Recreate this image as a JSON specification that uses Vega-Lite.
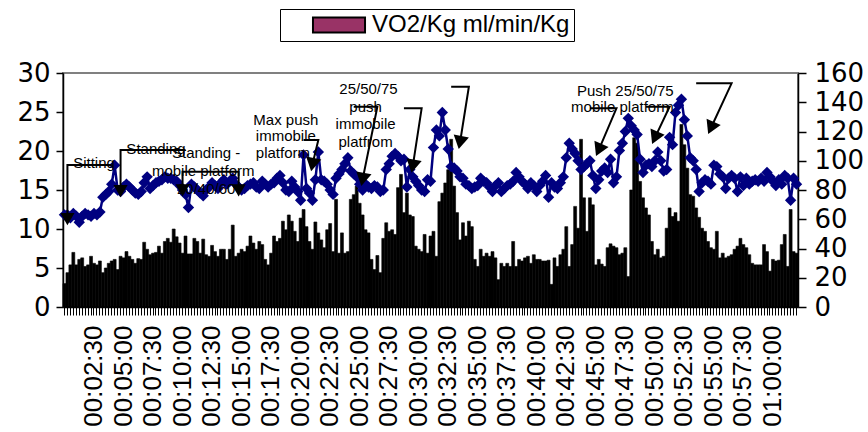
{
  "$schema": "https://vega.github.io/schema/vega-lite/v6.json",
  "width": 735,
  "height": 234,
  "autosize": {"type": "none"},
  "padding": {"left": 63, "top": 73, "right": 70, "bottom": 125},
  "background": "white",
  "config": {
    "view": {"stroke": "#808080", "strokeWidth": 2},
    "font": "Liberation Sans",
    "axis": {"labelFont": "Liberation Sans", "labelColor": "black", "tickColor": "black", "domainColor": "black", "grid": false}
  },
  "datasets": {
    "series": [
      {"t":"00:00:00","vo2":3.0,"hr":63},{"t":"00:00:15","vo2":4.4,"hr":63},{"t":"00:00:30","vo2":5.4,"hr":61},{"t":"00:00:45","vo2":7.0,"hr":64},
      {"t":"00:01:00","vo2":5.4,"hr":62},{"t":"00:01:15","vo2":6.1,"hr":58},{"t":"00:01:30","vo2":6.3,"hr":62},{"t":"00:01:45","vo2":5.2,"hr":64},
      {"t":"00:02:00","vo2":5.4,"hr":63},{"t":"00:02:15","vo2":6.5,"hr":62},{"t":"00:02:30","vo2":5.6,"hr":64},{"t":"00:02:45","vo2":5.4,"hr":63},
      {"t":"00:03:00","vo2":5.9,"hr":65},{"t":"00:03:15","vo2":4.4,"hr":75},{"t":"00:03:30","vo2":5.0,"hr":77},{"t":"00:03:45","vo2":5.6,"hr":79},
      {"t":"00:04:00","vo2":5.9,"hr":84},{"t":"00:04:15","vo2":6.1,"hr":97},{"t":"00:04:30","vo2":4.8,"hr":80},{"t":"00:04:45","vo2":6.5,"hr":79},
      {"t":"00:05:00","vo2":6.3,"hr":82},{"t":"00:05:15","vo2":7.1,"hr":84},{"t":"00:05:30","vo2":6.5,"hr":82},{"t":"00:05:45","vo2":6.1,"hr":80},
      {"t":"00:06:00","vo2":5.6,"hr":78},{"t":"00:06:15","vo2":6.2,"hr":77},{"t":"00:06:30","vo2":6.1,"hr":79},{"t":"00:06:45","vo2":8.3,"hr":85},
      {"t":"00:07:00","vo2":7.4,"hr":89},{"t":"00:07:15","vo2":6.7,"hr":81},{"t":"00:07:30","vo2":6.9,"hr":83},{"t":"00:07:45","vo2":7.0,"hr":85},
      {"t":"00:08:00","vo2":7.8,"hr":86},{"t":"00:08:15","vo2":6.9,"hr":87},{"t":"00:08:30","vo2":8.4,"hr":89},{"t":"00:08:45","vo2":8.8,"hr":88},
      {"t":"00:09:00","vo2":8.3,"hr":88},{"t":"00:09:15","vo2":10.0,"hr":87},{"t":"00:09:30","vo2":9.0,"hr":86},{"t":"00:09:45","vo2":8.2,"hr":83},
      {"t":"00:10:00","vo2":6.9,"hr":80},{"t":"00:10:15","vo2":9.1,"hr":77},{"t":"00:10:30","vo2":6.8,"hr":68},{"t":"00:10:45","vo2":6.8,"hr":84},
      {"t":"00:11:00","vo2":8.8,"hr":82},{"t":"00:11:15","vo2":8.4,"hr":80},{"t":"00:11:30","vo2":6.9,"hr":78},{"t":"00:11:45","vo2":8.7,"hr":76},
      {"t":"00:12:00","vo2":6.7,"hr":80},{"t":"00:12:15","vo2":6.5,"hr":82},{"t":"00:12:30","vo2":7.9,"hr":85},{"t":"00:12:45","vo2":7.1,"hr":83},
      {"t":"00:13:00","vo2":6.5,"hr":81},{"t":"00:13:15","vo2":7.4,"hr":85},{"t":"00:13:30","vo2":7.4,"hr":87},{"t":"00:13:45","vo2":6.1,"hr":84},
      {"t":"00:14:00","vo2":7.4,"hr":86},{"t":"00:14:15","vo2":10.5,"hr":88},{"t":"00:14:30","vo2":6.5,"hr":84},{"t":"00:14:45","vo2":6.9,"hr":82},
      {"t":"00:15:00","vo2":7.4,"hr":80},{"t":"00:15:15","vo2":7.1,"hr":81},{"t":"00:15:30","vo2":7.8,"hr":83},{"t":"00:15:45","vo2":9.1,"hr":84},
      {"t":"00:16:00","vo2":8.2,"hr":85},{"t":"00:16:15","vo2":7.4,"hr":82},{"t":"00:16:30","vo2":8.4,"hr":81},{"t":"00:16:45","vo2":8.0,"hr":86},
      {"t":"00:17:00","vo2":6.1,"hr":84},{"t":"00:17:15","vo2":5.4,"hr":82},{"t":"00:17:30","vo2":6.9,"hr":84},{"t":"00:17:45","vo2":9.1,"hr":85},
      {"t":"00:18:00","vo2":8.4,"hr":88},{"t":"00:18:15","vo2":8.8,"hr":90},{"t":"00:18:30","vo2":11.0,"hr":85},{"t":"00:18:45","vo2":9.9,"hr":80},
      {"t":"00:19:00","vo2":11.8,"hr":79},{"t":"00:19:15","vo2":11.0,"hr":86},{"t":"00:19:30","vo2":9.7,"hr":82},{"t":"00:19:45","vo2":8.4,"hr":79},
      {"t":"00:20:00","vo2":11.4,"hr":73},{"t":"00:20:15","vo2":12.5,"hr":104},{"t":"00:20:30","vo2":10.3,"hr":81},{"t":"00:20:45","vo2":8.4,"hr":78},
      {"t":"00:21:00","vo2":7.4,"hr":73},{"t":"00:21:15","vo2":10.9,"hr":87},{"t":"00:21:30","vo2":9.5,"hr":106},{"t":"00:21:45","vo2":8.6,"hr":87},
      {"t":"00:22:00","vo2":7.6,"hr":86},{"t":"00:22:15","vo2":9.9,"hr":84},{"t":"00:22:30","vo2":10.7,"hr":80},{"t":"00:22:45","vo2":7.1,"hr":77},
      {"t":"00:23:00","vo2":13.8,"hr":88},{"t":"00:23:15","vo2":6.9,"hr":91},{"t":"00:23:30","vo2":9.5,"hr":94},{"t":"00:23:45","vo2":6.9,"hr":98},
      {"t":"00:24:00","vo2":7.1,"hr":102},{"t":"00:24:15","vo2":13.8,"hr":93},{"t":"00:24:30","vo2":14.4,"hr":91},{"t":"00:24:45","vo2":15.5,"hr":89},
      {"t":"00:25:00","vo2":13.3,"hr":84},{"t":"00:25:15","vo2":11.8,"hr":80},{"t":"00:25:30","vo2":9.9,"hr":84},{"t":"00:25:45","vo2":9.5,"hr":82},
      {"t":"00:26:00","vo2":6.1,"hr":81},{"t":"00:26:15","vo2":4.8,"hr":83},{"t":"00:26:30","vo2":6.6,"hr":82},{"t":"00:26:45","vo2":4.4,"hr":79},
      {"t":"00:27:00","vo2":8.8,"hr":80},{"t":"00:27:15","vo2":10.8,"hr":94},{"t":"00:27:30","vo2":9.7,"hr":98},{"t":"00:27:45","vo2":9.9,"hr":103},
      {"t":"00:28:00","vo2":9.3,"hr":105},{"t":"00:28:15","vo2":15.3,"hr":103},{"t":"00:28:30","vo2":17.0,"hr":100},{"t":"00:28:45","vo2":12.1,"hr":101},
      {"t":"00:29:00","vo2":14.6,"hr":82},{"t":"00:29:15","vo2":11.8,"hr":94},{"t":"00:29:30","vo2":11.6,"hr":89},{"t":"00:29:45","vo2":7.8,"hr":86},
      {"t":"00:30:00","vo2":7.4,"hr":83},{"t":"00:30:15","vo2":7.1,"hr":80},{"t":"00:30:30","vo2":9.3,"hr":79},{"t":"00:30:45","vo2":6.9,"hr":87},
      {"t":"00:31:00","vo2":9.1,"hr":86},{"t":"00:31:15","vo2":9.7,"hr":109},{"t":"00:31:30","vo2":6.5,"hr":121},{"t":"00:31:45","vo2":13.5,"hr":117},
      {"t":"00:32:00","vo2":14.6,"hr":133},{"t":"00:32:15","vo2":15.9,"hr":121},{"t":"00:32:30","vo2":17.6,"hr":108},{"t":"00:32:45","vo2":21.5,"hr":96},
      {"t":"00:33:00","vo2":15.5,"hr":95},{"t":"00:33:15","vo2":12.1,"hr":93},{"t":"00:33:30","vo2":8.6,"hr":89},{"t":"00:33:45","vo2":10.8,"hr":88},
      {"t":"00:34:00","vo2":9.1,"hr":84},{"t":"00:34:15","vo2":11.0,"hr":83},{"t":"00:34:30","vo2":10.3,"hr":81},{"t":"00:34:45","vo2":6.1,"hr":82},
      {"t":"00:35:00","vo2":5.2,"hr":83},{"t":"00:35:15","vo2":7.4,"hr":88},{"t":"00:35:30","vo2":6.5,"hr":86},{"t":"00:35:45","vo2":6.9,"hr":85},
      {"t":"00:36:00","vo2":6.5,"hr":82},{"t":"00:36:15","vo2":7.1,"hr":79},{"t":"00:36:30","vo2":6.3,"hr":83},{"t":"00:36:45","vo2":3.5,"hr":85},
      {"t":"00:37:00","vo2":5.6,"hr":79},{"t":"00:37:15","vo2":5.2,"hr":81},{"t":"00:37:30","vo2":5.6,"hr":83},{"t":"00:37:45","vo2":5.2,"hr":84},
      {"t":"00:38:00","vo2":8.4,"hr":86},{"t":"00:38:15","vo2":5.2,"hr":92},{"t":"00:38:30","vo2":6.1,"hr":89},{"t":"00:38:45","vo2":5.9,"hr":86},
      {"t":"00:39:00","vo2":6.3,"hr":84},{"t":"00:39:15","vo2":6.5,"hr":81},{"t":"00:39:30","vo2":5.6,"hr":85},{"t":"00:39:45","vo2":6.7,"hr":83},
      {"t":"00:40:00","vo2":6.1,"hr":79},{"t":"00:40:15","vo2":6.1,"hr":83},{"t":"00:40:30","vo2":5.9,"hr":86},{"t":"00:40:45","vo2":5.9,"hr":90},
      {"t":"00:41:00","vo2":6.0,"hr":75},{"t":"00:41:15","vo2":2.9,"hr":85},{"t":"00:41:30","vo2":6.3,"hr":82},{"t":"00:41:45","vo2":5.2,"hr":81},
      {"t":"00:42:00","vo2":6.7,"hr":85},{"t":"00:42:15","vo2":7.4,"hr":89},{"t":"00:42:30","vo2":10.3,"hr":102},{"t":"00:42:45","vo2":5.2,"hr":112},
      {"t":"00:43:00","vo2":8.0,"hr":108},{"t":"00:43:15","vo2":12.9,"hr":105},{"t":"00:43:30","vo2":10.1,"hr":100},{"t":"00:43:45","vo2":21.5,"hr":94},
      {"t":"00:44:00","vo2":14.0,"hr":96},{"t":"00:44:15","vo2":9.7,"hr":98},{"t":"00:44:30","vo2":14.0,"hr":100},{"t":"00:44:45","vo2":13.1,"hr":90},
      {"t":"00:45:00","vo2":5.4,"hr":81},{"t":"00:45:15","vo2":6.1,"hr":87},{"t":"00:45:30","vo2":5.5,"hr":93},{"t":"00:45:45","vo2":5.2,"hr":95},
      {"t":"00:46:00","vo2":7.6,"hr":92},{"t":"00:46:15","vo2":8.1,"hr":101},{"t":"00:46:30","vo2":7.8,"hr":85},{"t":"00:46:45","vo2":7.6,"hr":89},
      {"t":"00:47:00","vo2":6.7,"hr":107},{"t":"00:47:15","vo2":6.9,"hr":112},{"t":"00:47:30","vo2":7.6,"hr":120},{"t":"00:47:45","vo2":3.9,"hr":129},
      {"t":"00:48:00","vo2":15.0,"hr":124},{"t":"00:48:15","vo2":21.7,"hr":121},{"t":"00:48:30","vo2":21.0,"hr":118},{"t":"00:48:45","vo2":16.1,"hr":101},
      {"t":"00:49:00","vo2":14.0,"hr":92},{"t":"00:49:15","vo2":12.7,"hr":97},{"t":"00:49:30","vo2":11.8,"hr":98},{"t":"00:49:45","vo2":8.4,"hr":96},
      {"t":"00:50:00","vo2":6.7,"hr":100},{"t":"00:50:15","vo2":7.4,"hr":106},{"t":"00:50:30","vo2":6.3,"hr":100},{"t":"00:50:45","vo2":6.5,"hr":93},
      {"t":"00:51:00","vo2":10.1,"hr":94},{"t":"00:51:15","vo2":12.7,"hr":116},{"t":"00:51:30","vo2":11.6,"hr":111},{"t":"00:51:45","vo2":12.1,"hr":133},
      {"t":"00:52:00","vo2":11.0,"hr":138},{"t":"00:52:15","vo2":23.4,"hr":142},{"t":"00:52:30","vo2":20.8,"hr":128},{"t":"00:52:45","vo2":17.8,"hr":117},
      {"t":"00:53:00","vo2":14.4,"hr":102},{"t":"00:53:15","vo2":14.2,"hr":100},{"t":"00:53:30","vo2":12.7,"hr":94},{"t":"00:53:45","vo2":11.5,"hr":79},
      {"t":"00:54:00","vo2":10.1,"hr":85},{"t":"00:54:15","vo2":9.7,"hr":87},{"t":"00:54:30","vo2":8.4,"hr":86},{"t":"00:54:45","vo2":7.6,"hr":84},
      {"t":"00:55:00","vo2":7.4,"hr":97},{"t":"00:55:15","vo2":9.7,"hr":96},{"t":"00:55:30","vo2":6.3,"hr":91},{"t":"00:55:45","vo2":6.9,"hr":89},
      {"t":"00:56:00","vo2":6.3,"hr":81},{"t":"00:56:15","vo2":6.5,"hr":88},{"t":"00:56:30","vo2":6.7,"hr":90},{"t":"00:56:45","vo2":7.4,"hr":88},
      {"t":"00:57:00","vo2":7.8,"hr":79},{"t":"00:57:15","vo2":8.8,"hr":89},{"t":"00:57:30","vo2":8.0,"hr":83},{"t":"00:57:45","vo2":7.6,"hr":88},
      {"t":"00:58:00","vo2":6.7,"hr":84},{"t":"00:58:15","vo2":5.6,"hr":86},{"t":"00:58:30","vo2":5.4,"hr":87},{"t":"00:58:45","vo2":5.4,"hr":86},
      {"t":"00:59:00","vo2":5.4,"hr":88},{"t":"00:59:15","vo2":8.0,"hr":86},{"t":"00:59:30","vo2":7.1,"hr":92},{"t":"00:59:45","vo2":4.6,"hr":89},
      {"t":"01:00:00","vo2":6.1,"hr":86},{"t":"01:00:15","vo2":5.9,"hr":83},{"t":"01:00:30","vo2":6.0,"hr":87},{"t":"01:00:45","vo2":8.0,"hr":84},
      {"t":"01:01:00","vo2":9.3,"hr":90},{"t":"01:01:15","vo2":5.2,"hr":88},{"t":"01:01:30","vo2":12.5,"hr":73},{"t":"01:01:45","vo2":7.1,"hr":88},
      {"t":"01:02:00","vo2":6.9,"hr":84}
    ],
    "notes": [
      {"t":"00:02:30","v":18.4,"label":"Sitting"},
      {"t":"00:07:45","v":20.32,"label":"Standing"},
      {"t":"00:12:00","v":19.74,"label":"Standing -"},
      {"t":"00:11:45","v":17.44,"label":"mobile platform"},
      {"t":"00:12:00","v":15.19,"label":"20/40/60"},
      {"t":"00:18:45","v":23.97,"label":"Max push"},
      {"t":"00:18:45","v":21.86,"label":"immobile"},
      {"t":"00:18:30","v":19.68,"label":"platform"},
      {"t":"00:25:45","v":27.95,"label":"25/50/75"},
      {"t":"00:25:30","v":25.64,"label":"push"},
      {"t":"00:25:30","v":23.4,"label":"immobile"},
      {"t":"00:25:30","v":21.15,"label":"platfrom"},
      {"t":"00:47:30","v":27.69,"label":"Push 25/50/75"},
      {"t":"00:47:15","v":25.64,"label":"mobile platform"}
    ],
    "arrows": [
      {"arrow":"a1","step":1,"t":"00:04:00","v":18.21},{"arrow":"a1","step":2,"t":"00:00:15","v":18.21},{"arrow":"a1","step":3,"t":"00:00:15","v":11.3},
      {"arrow":"a2","step":1,"t":"00:10:15","v":20.13},{"arrow":"a2","step":2,"t":"00:04:45","v":20.13},{"arrow":"a2","step":3,"t":"00:04:45","v":14.9},
      {"arrow":"a3","step":1,"t":"00:10:00","v":14.94},{"arrow":"a3","step":2,"t":"00:10:00","v":17.35},{"arrow":"a3","step":3,"t":"00:14:45","v":17.35},{"arrow":"a3","step":4,"t":"00:14:45","v":14.94},
      {"arrow":"a4","step":1,"t":"00:20:15","v":21.41},{"arrow":"a4","step":2,"t":"00:21:30","v":21.41},{"arrow":"a4","step":3,"t":"00:21:00","v":18.26},
      {"arrow":"a5","step":1,"t":"00:24:30","v":25.68},{"arrow":"a5","step":2,"t":"00:26:30","v":25.68},{"arrow":"a5","step":3,"t":"00:25:15","v":16.35},
      {"arrow":"a6","step":1,"t":"00:28:45","v":25.47},{"arrow":"a6","step":2,"t":"00:30:15","v":25.47},{"arrow":"a6","step":3,"t":"00:29:30","v":18.05},
      {"arrow":"a7","step":1,"t":"00:32:45","v":28.24},{"arrow":"a7","step":2,"t":"00:34:15","v":28.24},{"arrow":"a7","step":3,"t":"00:33:30","v":21.09},
      {"arrow":"a8","step":1,"t":"00:44:30","v":25.47},{"arrow":"a8","step":2,"t":"00:46:45","v":25.47},{"arrow":"a8","step":3,"t":"00:45:15","v":20.14},
      {"arrow":"a9","step":1,"t":"00:49:15","v":25.68},{"arrow":"a9","step":2,"t":"00:51:15","v":25.68},{"arrow":"a9","step":3,"t":"00:50:00","v":21.69},
      {"arrow":"a10","step":1,"t":"00:53:30","v":28.68},{"arrow":"a10","step":2,"t":"00:56:30","v":28.68},{"arrow":"a10","step":3,"t":"00:54:45","v":22.95}
    ]
  },
  "layer": [
    {
      "data": {"name": "series"},
      "mark": {"type": "bar", "stroke": "black", "strokeWidth": 0.6},
      "encoding": {
        "x": {
          "field": "t", "type": "ordinal",
          "scale": {"type": "band", "paddingInner": 0, "paddingOuter": 0},
          "axis": {
            "title": null,
            "labelExpr": "((toNumber(slice(datum.value,0,2))*3600 + toNumber(slice(datum.value,3,5))*60 + toNumber(slice(datum.value,6,8))) % 150 == 0) && (datum.value != '00:00:00') ? datum.value : ''",
            "labelAngle": 270, "labelAlign": "right", "labelBaseline": "middle",
            "labelFontSize": 26, "labelPadding": 10, "tickSize": 8, "tickWidth": 1,
            "domainWidth": 1.5, "labelOverlap": false, "labelFlush": false, "labelBound": false
          }
        },
        "y": {
          "field": "vo2", "type": "quantitative",
          "scale": {"domain": [0, 30], "nice": false},
          "axis": {"title": null, "values": [0, 5, 10, 15, 20, 25, 30], "labelFont": "DejaVu Sans", "labelFontSize": 26, "tickSize": 7, "tickWidth": 1.5, "domainWidth": 1.5, "labelPadding": 6}
        },
        "fill": {
          "condition": {"test": "true", "value": "black"},
          "datum": "VO2/Kg ml/min/Kg",
          "scale": {"range": ["#993366"]},
          "legend": {
            "orient": "none", "legendX": 217, "legendY": -64, "title": null, "direction": "horizontal",
            "symbolType": "M-3.47,-1H3.47V1H-3.47Z", "symbolSize": 225, "symbolStrokeWidth": 2, "symbolStrokeColor": "black",
            "symbolOffset": 43, "labelOffset": 21, "labelFontSize": 24, "labelFont": "Liberation Sans", "labelColor": "black",
            "labelLimit": 400, "padding": 4, "strokeColor": "black", "fillColor": "white"
          }
        }
      }
    },
    {
      "data": {"name": "series"},
      "mark": {"type": "line", "color": "#000080", "strokeWidth": 2.5, "point": {"shape": "diamond", "size": 130, "filled": true, "color": "#000080", "opacity": 1}},
      "encoding": {
        "x": {"field": "t", "type": "ordinal"},
        "y": {
          "field": "hr", "type": "quantitative",
          "scale": {"domain": [0, 160], "nice": false},
          "axis": {"title": null, "orient": "right", "values": [0, 20, 40, 60, 80, 100, 120, 140, 160], "labelFont": "DejaVu Sans", "labelFontSize": 26, "tickSize": 8, "tickWidth": 1.5, "domainWidth": 1.5, "labelPadding": 8}
        }
      }
    },
    {
      "data": {"name": "arrows"},
      "mark": {"type": "line", "color": "black", "strokeWidth": 2},
      "encoding": {
        "x": {"field": "t", "type": "ordinal"},
        "y": {"field": "v", "type": "quantitative", "scale": {"domain": [0, 30], "nice": false}, "axis": null},
        "detail": {"field": "arrow"},
        "order": {"field": "step"}
      }
    },
    {
      "data": {"values": [
        {"t":"00:00:15","v":11.28},{"t":"00:04:45","v":14.87},{"t":"00:10:00","v":14.94},{"t":"00:14:45","v":14.94}
      ]},
      "mark": {"type": "point", "shape": "triangle-down", "size": 200, "filled": true, "color": "black", "opacity": 1},
      "encoding": {
        "x": {"field": "t", "type": "ordinal"},
        "y": {"field": "v", "type": "quantitative", "scale": {"domain": [0, 30], "nice": false}, "axis": null}
      }
    },
    {
      "data": {"values": [
        {"t":"00:21:00","v":18.26},{"t":"00:25:15","v":16.35},{"t":"00:29:30","v":18.05},{"t":"00:33:30","v":21.09}
      ]},
      "mark": {"type": "point", "shape": "triangle-down", "size": 240, "filled": true, "color": "black", "opacity": 1, "angle": 11},
      "encoding": {
        "x": {"field": "t", "type": "ordinal"},
        "y": {"field": "v", "type": "quantitative", "scale": {"domain": [0, 30], "nice": false}, "axis": null}
      }
    },
    {
      "data": {"values": [
        {"t":"00:45:15","v":20.14},{"t":"00:50:00","v":21.69},{"t":"00:54:45","v":22.95}
      ]},
      "mark": {"type": "point", "shape": "triangle-down", "size": 240, "filled": true, "color": "black", "opacity": 1, "angle": 24},
      "encoding": {
        "x": {"field": "t", "type": "ordinal"},
        "y": {"field": "v", "type": "quantitative", "scale": {"domain": [0, 30], "nice": false}, "axis": null}
      }
    },
    {
      "data": {"name": "notes"},
      "mark": {"type": "text", "font": "Liberation Sans", "fontSize": 15, "color": "black", "align": "center", "baseline": "middle"},
      "encoding": {
        "x": {"field": "t", "type": "ordinal"},
        "y": {"field": "v", "type": "quantitative", "scale": {"domain": [0, 30], "nice": false}, "axis": null},
        "text": {"field": "label"}
      }
    }
  ],
  "resolve": {"scale": {"y": "independent"}}
}
